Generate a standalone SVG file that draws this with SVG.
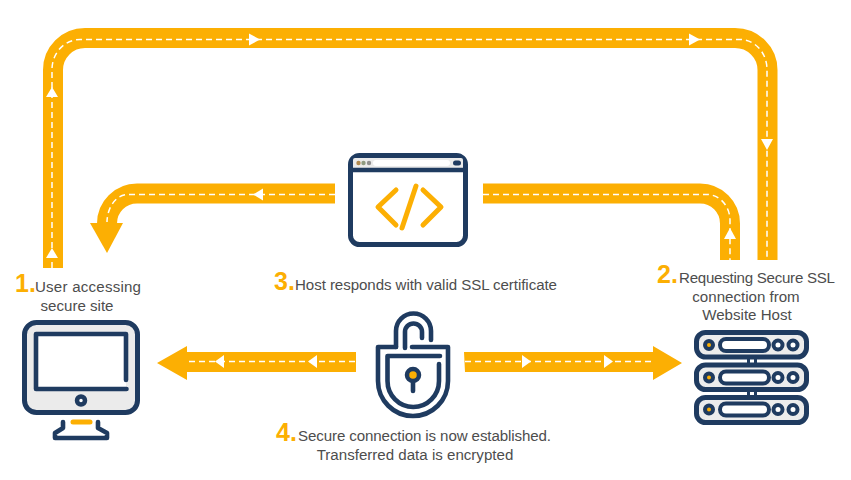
<svg xmlns="http://www.w3.org/2000/svg" width="851" height="480" viewBox="0 0 851 480">
<style>
.band{fill:none;stroke:#fcaf03;stroke-width:20}
.dash{fill:none;stroke:#fff;stroke-width:1.5;stroke-dasharray:6 4}
.o{fill:#fcaf03}
.w{fill:#fff}
.n{fill:none;stroke:#1f3b60;stroke-width:4.6;stroke-linecap:round;stroke-linejoin:round}
.a{fill:none;stroke:#fcaf03;stroke-width:5;stroke-linecap:round;stroke-linejoin:round}
.t{font-family:"Liberation Sans",Arial,sans-serif;font-size:15.1px;fill:#4d4d4d}
.m{text-anchor:middle}
.d{font-family:"Liberation Sans",Arial,sans-serif;font-size:25px;font-weight:700;fill:#fcaf03}
</style>
<g id="connectors">
<path class="band" d="M53 268V70A32 32 0 0 1 85 38H735A32.500 32 0 0 1 767.500 70V260"/>
<path class="dash" d="M52 268V70A28 30 0 0 1 80 39.500H740A27 30 0 0 1 767 70V260"/>
<path class="w" d="M249 33.500L260 39.500L249 45.500ZM689 33.500L700 39.500L689 45.500ZM46 97L52 87L58 97ZM46 258L52 248L58 258ZM761 139L773 139L767 150Z"/>
<path class="band" d="M335 193.500H137A30 30 0 0 0 107 223.500"/>
<path class="o" d="M90 223H123L107 253Z"/>
<path class="dash" d="M335 194.500H128A21 28 0 0 0 107 222"/>
<path class="w" d="M263 188.500L253 194.500L263 200.500Z"/>
<path class="band" d="M483 193.500H700A30 30 0 0 1 730 223.500V260"/>
<path class="dash" d="M483 194.500H707A23 26 0 0 1 730 220V260"/>
<path class="w" d="M724 239L730 228L736 239Z"/>
<path class="o" d="M356 352H187V346L157 363L187 380V372H356Z"/>
<path class="dash" d="M355 361.500H187"/>
<path class="w" d="M224 355L215 361.500L224 368ZM317 355L308 361.500L317 368Z"/>
<path class="o" d="M464 352H653V346L682 363L653 380V372H465Z"/>
<path class="dash" d="M465 361.500H653"/>
<path class="w" d="M522 355L531 361.500L522 368ZM604 355L613 361.500L604 368Z"/>
</g>
<g id="node-user">
<rect x="24.500" y="322.500" width="113" height="90" rx="12" fill="#ebebeb" stroke="#1f3b60" stroke-width="5"/>
<rect x="36" y="334" width="90" height="55" fill="#fff"/>
<path class="n" d="M126 380V334H36V389H126.500"/>
<circle cx="81" cy="400.500" r="4" fill="#fff" stroke="#1f3b60" stroke-width="4.500"/>
<path class="n" d="M63 422V428L55 433V438H107V433L98 428V422"/>
<path class="a" d="M73 422H90"/>
<text class="d" x="15" y="292">1.</text>
<text class="t" x="35" y="292" textLength="106">User accessing</text>
<text class="t m" x="77" y="311">secure site</text>
</g>
<g id="node-host">
<g fill="#ececec" stroke="#1f3b60" stroke-width="5">
<rect x="696.500" y="332.500" width="110" height="24.500" rx="9"/>
<rect x="696.500" y="365" width="110" height="24.500" rx="9"/>
<rect x="696.500" y="397.500" width="110" height="25" rx="9"/>
</g>
<path fill="#1f3b60" d="M747 358h3v6h-3zM754 358h3v6h-3zM747 390h3v6h-3zM754 390h3v6h-3z"/>
<g fill="#fff" stroke="#1f3b60" stroke-width="4">
<rect x="720" y="339" width="49" height="12" rx="6"/>
<rect x="720" y="371.500" width="49" height="12" rx="6"/>
<rect x="720" y="403.500" width="49" height="12" rx="6"/>
<circle cx="778" cy="345" r="4.500"/><circle cx="793" cy="345" r="4.500"/>
<circle cx="778" cy="377.500" r="4.500"/><circle cx="793" cy="377.500" r="4.500"/>
<circle cx="778" cy="409.500" r="4.500"/><circle cx="793" cy="409.500" r="4.500"/>
</g>
<g fill="#fcaf03" stroke="#1f3b60" stroke-width="4">
<circle cx="709" cy="345" r="4"/><circle cx="709" cy="377.500" r="4"/><circle cx="709" cy="409.500" r="4"/>
</g>
<text class="d" x="657" y="283">2.</text>
<text class="t" x="679" y="283" textLength="156">Requesting Secure SSL</text>
<text class="t m" x="746" y="302">connection from</text>
<text class="t m" x="747" y="320">Website Host</text>
</g>
<g id="node-browser">
<rect x="350.500" y="155.500" width="115" height="89" rx="9" fill="#fff" stroke="#1f3b60" stroke-width="5"/>
<path fill="#ebebeb" d="M353 168V160a2 2 0 0 1 2-2H461a2 2 0 0 1 2 2V168Z"/>
<path d="M351 170H465" stroke="#1f3b60" stroke-width="4.500" fill="none"/>
<rect x="373" y="160" width="77" height="6" rx="3" fill="#fff"/>
<circle cx="358.500" cy="163" r="2.200" fill="#b0894f"/>
<circle cx="363.500" cy="163" r="2.200" fill="#8f9a80"/>
<circle cx="369" cy="163" r="2.200" fill="#8f8f8f"/>
<rect x="453" y="160.500" width="8" height="5" rx="2.500" fill="#1f3b60"/>
<path class="a" d="M396 190L378 207L396 225M416 186L402 228M423 190L441 207L423 225"/>
<text class="d" x="274" y="290">3.</text>
<text class="t" x="295" y="290" textLength="262">Host responds with valid SSL certificate</text>
</g>
<g id="node-lock">
<path class="n" d="M396 347V331A17.500 17.500 0 0 1 431 331V340"/>
<path class="n" d="M405 348V332A8.500 8.500 0 0 1 422 332V338"/>
<path class="n" d="M396 347H378V381A35 35 0 0 0 448 381V347H412"/>
<path class="n" d="M440 356H387.500V381A25.750 26 0 0 0 439 381V364"/>
<path class="n" d="M413 381V391"/>
<circle cx="413" cy="375" r="6" fill="#fcaf03" stroke="#1f3b60" stroke-width="4.500"/>
<text class="d" x="276" y="441">4.</text>
<text class="t" x="298" y="441" textLength="253">Secure connection is now established.</text>
<text class="t m" x="415" y="460">Transferred data is encrypted</text>
</g>
</svg>
